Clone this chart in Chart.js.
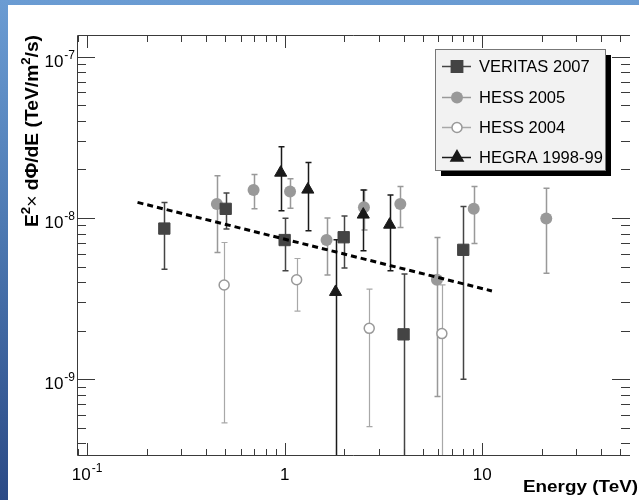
<!DOCTYPE html>
<html lang="en">
<head>
  <meta charset="UTF-8">
  <title>Spectral energy distribution</title>
  <style>
    html, body {
      margin: 0;
      padding: 0;
    }

    body {
      width: 639px;
      height: 500px;
      overflow: hidden;
      background: linear-gradient(180deg, #6b9cd3 0%, #4d79b2 45%, #2b4a86 100%);
    }

    #wrap {
      position: absolute;
      left: 0;
      top: 0;
      width: 639px;
      height: 500px;
    }
  </style>
</head>

<body>
  <div id="wrap"><canvas id="sed" width="639" height="500"></canvas></div>

  <script src="https://cdn.jsdelivr.net/npm/chart.js"></script>
  <script>
    // VERITAS 2007
    const veritasE = [0.246, 0.503, 1.0, 1.99, 4.0, 8.02];
    const veritasF = [8.6e-9, 1.14e-8, 7.3e-9, 7.6e-9, 1.9e-9, 6.35e-9];
    const veritasHi = [1.25e-8, 1.43e-8, 9.95e-9, 1.03e-8, 4.49e-9, 1.18e-8];
    const veritasLo = [4.82e-9, 8.55e-9, 4.71e-9, 4.89e-9, 1e-10, 1.0e-9];

    // HESS 2005
    const hess05E = [0.454, 0.696, 1.065, 1.63, 2.52, 3.85, 5.9, 9.06, 21.1];
    const hess05F = [1.22e-8, 1.49e-8, 1.46e-8, 7.3e-9, 1.165e-8, 1.22e-8, 4.14e-9, 1.14e-8, 9.94e-9];
    const hess05Hi = [1.83e-8, 1.86e-8, 1.75e-8, 1.0e-8, 1.49e-8, 1.57e-8, 7.58e-9, 1.57e-8, 1.53e-8];
    const hess05Lo = [6.11e-9, 1.14e-8, 1.15e-8, 4.43e-9, 8.42e-9, 8.74e-9, 7.83e-10, 6.95e-9, 4.55e-9];

    // HESS 2004
    const hess04E = [0.494, 1.15, 2.68, 6.25];
    const hess04F = [3.84e-9, 4.14e-9, 2.07e-9, 1.92e-9];
    const hess04Hi = [7.05e-9, 5.61e-9, 3.62e-9, 3.85e-9];
    const hess04Lo = [5.37e-10, 2.65e-9, 5.09e-10, 1e-10];

    // HEGRA 1998-99
    const hegraE = [0.955, 1.31, 1.81, 2.50, 3.40];
    const hegraF = [1.91e-8, 1.50e-8, 3.48e-9, 1.05e-8, 9.09e-9];
    const hegraHi = [2.77e-8, 2.21e-8, 7.33e-9, 1.49e-8, 1.39e-8];
    const hegraLo = [1.11e-8, 8.34e-9, 1e-10, 6.27e-9, 4.71e-9];

    // power law fit (dashed)
    const fitE = [0.18, 11.2];
    const fitF = [1.25e-8, 3.53e-9];

    // axes
    const xMin = 0.0889, xMax = 56;
    const yMin = 3.346e-10, yMax = 1.3634e-7;
    const xLabelTicks = [0.1, 1, 10];
    const xLabelText = [['10', '-1'], ['1', ''], ['10', '']];
    const yLabelTicks = [1e-9, 1e-8, 1e-7];
    const yLabelText = [['10', '-9'], ['10', '-8'], ['10', '-7']];

    const FONT = '"Liberation Sans", Arial, Helvetica, sans-serif';

    function pts(xs, ys) {
      return xs.map((x, i) => ({ x: x, y: ys[i] }));
    }

    function logTicks(min, max) {
      const out = [];
      for (let e = Math.floor(Math.log10(min)); e <= Math.ceil(Math.log10(max)); e++) {
        for (let m = 1; m <= 9; m++) {
          const v = m * Math.pow(10, e);
          if (v >= min && v <= max) out.push({ value: v, major: m === 1 });
        }
      }
      return out;
    }

    // white page on top of the blue slide background
    const pageBg = {
      id: 'pageBg',
      beforeDraw(chart) {
        const ctx = chart.ctx;
        ctx.save();
        ctx.fillStyle = '#ffffff';
        ctx.fillRect(8, 5, chart.width - 8, chart.height - 5);
        ctx.restore();
      }
    };

    // vertical error bars with small caps
    const errorBars = {
      id: 'errorBars',
      beforeDatasetsDraw(chart) {
        const ctx = chart.ctx;
        const xs = chart.scales.x, ys = chart.scales.y, a = chart.chartArea;
        ctx.save();
        ctx.beginPath();
        ctx.rect(a.left, a.top, a.right - a.left, a.bottom - a.top);
        ctx.clip();
        chart.data.datasets.forEach(ds => {
          if (!ds.errLo) return;
          ctx.strokeStyle = ds.errColor;
          ctx.lineWidth = ds.errWidth;
          ds.data.forEach((p, i) => {
            const x = Math.round(xs.getPixelForValue(p.x)) + 0.5;
            const yHi = ys.getPixelForValue(ds.errHi[i]);
            const yLo = ys.getPixelForValue(ds.errLo[i]);
            ctx.beginPath();
            ctx.moveTo(x, yHi);
            ctx.lineTo(x, yLo);
            ctx.moveTo(x - 3, yHi);
            ctx.lineTo(x + 3, yHi);
            ctx.moveTo(x - 3, yLo);
            ctx.lineTo(x + 3, yLo);
            ctx.stroke();
          });
        });
        ctx.restore();
      }
    };

    function drawSup(ctx, base, sup, x, y, align) {
      ctx.font = '17px ' + FONT;
      const wb = ctx.measureText(base).width;
      ctx.font = '12px ' + FONT;
      const ws = sup ? ctx.measureText(sup).width + 1 : 0;
      let x0 = x;
      if (align === 'right') x0 = x - wb - ws;
      if (align === 'center') x0 = x - (wb + ws) / 2;
      ctx.textAlign = 'left';
      ctx.font = '17px ' + FONT;
      ctx.fillText(base, x0, y);
      if (sup) {
        ctx.font = '12px ' + FONT;
        ctx.fillText(sup, x0 + wb + 1, y - 8);
      }
    }

    // text squeezed or stretched to a given length
    function fitText(ctx, parts, x, y, length) {
      let total = 0;
      parts.forEach(p => { ctx.font = p.f + FONT; p.w = ctx.measureText(p.t).width; total += p.w; });
      ctx.save();
      ctx.translate(x, y);
      ctx.scale(length / total, 1);
      let cx = 0;
      parts.forEach(p => {
        ctx.font = p.f + FONT;
        ctx.fillText(p.t, cx, -(p.up || 0));
        cx += p.w;
      });
      ctx.restore();
    }

    // ROOT-like frame, inward ticks, labels and titles
    const frame = {
      id: 'frame',
      afterDraw(chart) {
        const ctx = chart.ctx;
        const xs = chart.scales.x, ys = chart.scales.y;
        const { left, right, top, bottom } = chart.chartArea;
        ctx.save();
        ctx.strokeStyle = '#3a3a3a';
        ctx.lineWidth = 1;
        ctx.beginPath();
        ctx.moveTo(right, top + 0.5);
        ctx.lineTo(left + 0.5, top + 0.5);
        ctx.lineTo(left + 0.5, bottom - 0.5);
        ctx.lineTo(right, bottom - 0.5);
        ctx.stroke();

        ctx.beginPath();
        logTicks(xMin, xMax).forEach(t => {
          const px = Math.round(xs.getPixelForValue(t.value)) + 0.5;
          const len = t.major ? 13 : 7;
          ctx.moveTo(px, bottom);
          ctx.lineTo(px, bottom - len);
          ctx.moveTo(px, top);
          ctx.lineTo(px, top + len);
        });
        logTicks(yMin, yMax).forEach(t => {
          const py = Math.round(ys.getPixelForValue(t.value)) + 0.5;
          const len = t.major ? 18 : 9;
          ctx.moveTo(left, py);
          ctx.lineTo(left + len, py);
          ctx.moveTo(right, py);
          ctx.lineTo(right - len, py);
        });
        ctx.stroke();

        ctx.fillStyle = '#000';
        ctx.textBaseline = 'alphabetic';
        yLabelTicks.forEach((v, i) => {
          const py = ys.getPixelForValue(v);
          drawSup(ctx, yLabelText[i][0], yLabelText[i][1], 75, py + 10, 'right');
        });
        xLabelTicks.forEach((v, i) => {
          const px = xs.getPixelForValue(v);
          drawSup(ctx, xLabelText[i][0], xLabelText[i][1], px, 480, 'center');
        });

        // x title
        ctx.textAlign = 'left';
        fitText(ctx, [{ t: 'Energy (TeV)', f: 'bold 17px ' }], 523, 492, 115);

        // y title, rotated
        ctx.translate(38, 227);
        ctx.rotate(-Math.PI / 2);
        fitText(ctx, [
          { t: 'E', f: 'bold 19px ' },
          { t: '2', f: 'bold 13px ', up: 8 },
          { t: '\u00d7', f: '19px ' },
          { t: ' d\u03a6/dE (TeV/m', f: 'bold 19px ' },
          { t: '2', f: 'bold 13px ', up: 8 },
          { t: '/s)', f: 'bold 19px ' }
        ], 0, 0, 192);
        ctx.restore();
      }
    };

    // boxed legend with drop shadow, top right
    const boxLegend = {
      id: 'boxLegend',
      afterDraw(chart) {
        const ctx = chart.ctx;
        const bx = 435, by = 49, bw = 170, bh = 121;
        ctx.save();
        ctx.fillStyle = '#000';
        ctx.fillRect(bx + 6, by + 6, bw, bh);
        ctx.fillStyle = '#f2f2f2';
        ctx.fillRect(bx, by, bw, bh);
        ctx.strokeStyle = '#777';
        ctx.lineWidth = 1;
        ctx.strokeRect(bx + 0.5, by + 0.5, bw, bh);
        const rows = [66, 97, 127, 157];
        const series = chart.data.datasets.filter(d => d.legendRow !== undefined);
        series.forEach(ds => {
          const y = rows[ds.legendRow];
          ctx.strokeStyle = ds.errColor;
          ctx.lineWidth = 1.5;
          ctx.beginPath();
          ctx.moveTo(442, y + 0.5);
          ctx.lineTo(471, y + 0.5);
          ctx.stroke();
          ctx.fillStyle = ds.backgroundColor;
          ctx.strokeStyle = ds.borderColor;
          Chart.helpers.drawPoint(ctx, {
            pointStyle: ds.pointStyle,
            radius: ds.pointRadius,
            borderWidth: ds.borderWidth,
            rotation: 0
          }, 457, y + 0.5);
          ctx.fillStyle = '#000';
          ctx.font = '16.5px ' + FONT;
          ctx.textAlign = 'left';
          ctx.fillText(ds.label, 479, y + 6);
        });
        ctx.restore();
      }
    };

    new Chart(document.getElementById('sed').getContext('2d'), {
      type: 'scatter',
      data: {
        datasets: [
          {
            label: 'fit',
            data: pts(fitE, fitF),
            showLine: true,
            borderColor: '#000',
            borderWidth: 3,
            borderDash: [6, 4],
            pointRadius: 0,
            order: 0
          },
          {
            label: 'VERITAS 2007',
            data: pts(veritasE, veritasF),
            errHi: veritasHi, errLo: veritasLo,
            errColor: '#444', errWidth: 1.5,
            pointStyle: 'rect', pointRadius: 8,
            backgroundColor: '#444', borderColor: '#444', borderWidth: 1,
            legendRow: 0, order: 1
          },
          {
            label: 'HESS 2005',
            data: pts(hess05E, hess05F),
            errHi: hess05Hi, errLo: hess05Lo,
            errColor: '#999', errWidth: 1.5,
            pointStyle: 'circle', pointRadius: 6,
            backgroundColor: '#999', borderColor: '#999', borderWidth: 0,
            legendRow: 1, order: 3
          },
          {
            label: 'HESS 2004',
            data: pts(hess04E, hess04F),
            errHi: hess04Hi, errLo: hess04Lo,
            errColor: '#a8a8a8', errWidth: 1.2,
            pointStyle: 'circle', pointRadius: 5,
            backgroundColor: '#fff', borderColor: '#999', borderWidth: 1.5,
            legendRow: 2, order: 4
          },
          {
            label: 'HEGRA 1998-99',
            data: pts(hegraE, hegraF),
            errHi: hegraHi, errLo: hegraLo,
            errColor: '#1a1a1a', errWidth: 1.5,
            pointStyle: 'triangle', pointRadius: 7,
            backgroundColor: '#1a1a1a', borderColor: '#1a1a1a', borderWidth: 1,
            legendRow: 3, order: 2
          }
        ]
      },
      options: {
        responsive: false,
        animation: false,
        events: [],
        layout: {
          padding: { left: 77, top: 35, right: -2, bottom: 44 }
        },
        scales: {
          x: { type: 'logarithmic', min: xMin, max: xMax, bounds: 'data', display: false },
          y: { type: 'logarithmic', min: yMin, max: yMax, bounds: 'data', display: false }
        },
        plugins: {
          legend: { display: false },
          tooltip: { enabled: false }
        }
      },
      plugins: [pageBg, errorBars, frame, boxLegend]
    });
  </script>
</body>

</html>
